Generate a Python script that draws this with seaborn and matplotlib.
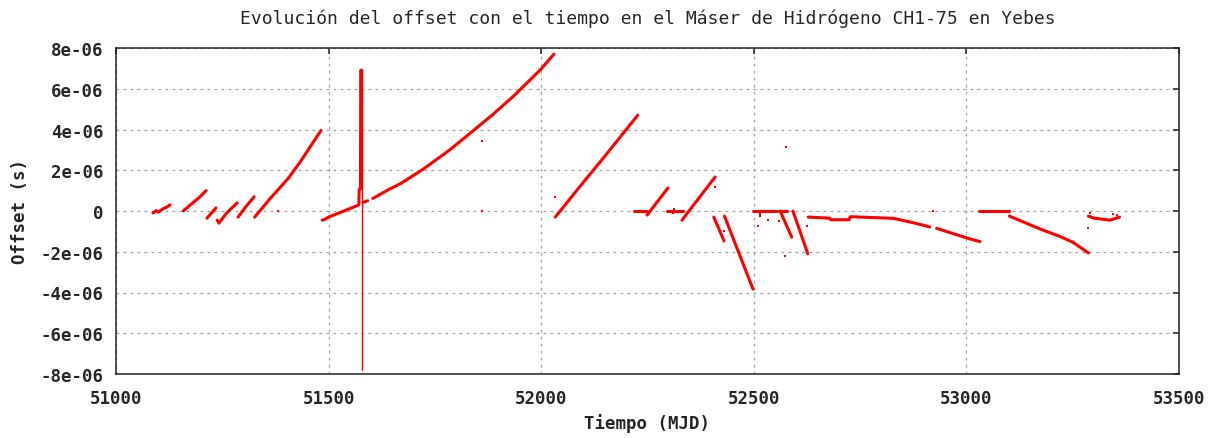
import numpy as np
import pandas as pd
import matplotlib
matplotlib.use("Agg")
import matplotlib.pyplot as plt
from matplotlib.ticker import FuncFormatter, FixedLocator
import seaborn as sns

# Continuous stretches of the maser offset record: segment id, MJD, offset (microseconds)
tramo = [
    1, 1, 1, 1, 1, 1,
    2, 2, 2, 2,
    3, 3,
    4, 4, 4, 4,
    5, 5, 5,
    6, 6, 6, 6, 6,
    7, 7, 7, 7, 7, 7, 7, 7, 7, 7,
    8, 8,
    9, 9, 9, 9, 9, 9, 9, 9, 9, 9, 9,
    10, 10, 10, 10,
    11, 11,
    12, 12,
    13, 13,
    14, 14,
    15, 15,
    16, 16,
    17, 17,
    18, 18,
    19, 19,
    20, 20,
    21, 21, 21, 21, 21, 21, 21, 21, 21,
    22, 22, 22, 22, 22,
    23, 23,
    24, 24, 24, 24, 24,
    25, 25, 25, 25, 25,
]
mjd = [
    51087, 51095, 51100, 51110, 51120, 51127,
    51158, 51175, 51195, 51212,
    51214, 51235,
    51238, 51242, 51260, 51285,
    51287, 51305, 51325,
    51326, 51360, 51405, 51433, 51482,
    51485, 51490, 51500, 51530, 51560, 51571, 51572, 51575, 51575.5, 51578,
    51581, 51592,
    51604, 51609, 51640, 51668, 51723, 51785, 51840, 51887, 51934, 51999, 52030,
    52033, 52091, 52150, 52227,
    52218, 52249,
    52249, 52298,
    52296, 52333,
    52331, 52409,
    52406, 52430,
    52431, 52498,
    52498, 52555,
    52560, 52577,
    52562, 52589,
    52592, 52627,
    52628, 52660, 52679, 52681, 52724, 52727, 52828, 52870, 52914,
    52930, 52960, 52990, 53010, 53032,
    53030, 53100,
    53101, 53173, 53220, 53251, 53287,
    53287, 53300, 53320, 53338, 53360,
]
offset_us = [
    -0.10, 0.02, -0.05, 0.10, 0.20, 0.30,
    0.00, 0.30, 0.65, 1.00,
    -0.35, 0.15,
    -0.45, -0.60, -0.10, 0.40,
    -0.30, 0.20, 0.70,
    -0.30, 0.55, 1.60, 2.40, 3.95,
    -0.45, -0.42, -0.30, -0.05, 0.20, 0.30, 1.08, 1.08, 6.90, 6.90,
    0.43, 0.50,
    0.62, 0.67, 1.04, 1.33, 2.06, 3.00, 3.94, 4.75, 5.62, 6.95, 7.70,
    -0.30, 1.20, 2.70, 4.70,
    0.00, 0.00,
    -0.20, 1.13,
    0.00, 0.00,
    -0.45, 1.67,
    -0.30, -1.47,
    -0.25, -3.83,
    0.00, 0.00,
    0.00, 0.00,
    0.00, -1.28,
    0.00, -2.10,
    -0.30, -0.33, -0.36, -0.43, -0.43, -0.28, -0.36, -0.55, -0.78,
    -0.85, -1.05, -1.25, -1.38, -1.50,
    0.00, 0.00,
    -0.25, -0.88, -1.25, -1.54, -2.06,
    -0.25, -0.35, -0.40, -0.45, -0.30,
]

# Thin excursion of the 51578 event
pico_mjd = [51578, 51578]
pico_us = [6.90, -7.80]

# Isolated readings
sueltos_mjd = [51861, 51861, 52033, 52311, 52313, 52409, 52430, 52515, 52515,
               52533, 52510, 52576, 52573, 52560, 52624, 52921, 53286, 53345,
               51380, 53290, 53355]
sueltos_us = [3.43, 0.00, 0.70, -0.12, 0.08, 1.20, -0.98, -0.15, -0.25,
              -0.45, -0.75, 3.14, -2.19, -0.47, -0.75, 0.00, -0.84, -0.15,
              0.00, -0.10, -0.20]

# Axis ticks
xticks = [51000, 51500, 52000, 52500, 53000, 53500]
yticks = [-8e-06, -6e-06, -4e-06, -2e-06, 0, 2e-06, 4e-06, 6e-06, 8e-06]

df = pd.DataFrame({"tramo": tramo, "mjd": mjd, "offset": np.array(offset_us) * 1e-6})
df_pico = pd.DataFrame({"mjd": pico_mjd, "offset": np.array(pico_us) * 1e-6})
df_sueltos = pd.DataFrame({"mjd": sueltos_mjd, "offset": np.array(sueltos_us) * 1e-6})

sns.set_style("white")
plt.rcParams["font.family"] = ["DejaVu Sans Mono", "DejaVu Sans"]

fig = plt.figure(figsize=(12.18, 4.39), dpi=100)
ax = fig.add_axes([116 / 1218, 1 - 375 / 439, (1179 - 116) / 1218, (375 - 49) / 439])

red = "#ff0000"
sns.lineplot(data=df, x="mjd", y="offset", units="tramo", estimator=None, sort=False,
             color=red, lw=2.2, ax=ax, zorder=3)
sns.lineplot(data=df_pico, x="mjd", y="offset", estimator=None, sort=False,
             color=red, lw=1.0, ax=ax, zorder=3)
sns.scatterplot(data=df_sueltos, x="mjd", y="offset", color=red, marker="s",
                s=3, linewidth=0, ax=ax, zorder=3)

ax.set_xlim(51000, 53500)
ax.set_ylim(-8e-06, 8e-06)
ax.xaxis.set_major_locator(FixedLocator(xticks))
ax.yaxis.set_major_locator(FixedLocator(yticks))
ax.yaxis.set_major_formatter(FuncFormatter(lambda v, p: "%g" % v))
ax.xaxis.set_major_formatter(FuncFormatter(lambda v, p: "%d" % v))

ax.grid(True, color="#a0a0a0", linestyle=(0, (2.2, 3.4)), linewidth=0.9, zorder=1)
for s in ax.spines.values():
    s.set_visible(True)
    s.set_color("#222222")
    s.set_linewidth(1.1)

ax.tick_params(axis="both", direction="in", length=4.5, width=1.1, color="#222222",
               top=True, right=True, labelsize=12.5)
ax.tick_params(axis="x", pad=11)
ax.tick_params(axis="y", pad=9)
for lab in ax.get_xticklabels() + ax.get_yticklabels():
    lab.set_fontweight("bold")

ax.set_xlabel("Tiempo (MJD)", fontsize=12.5, fontweight="bold", labelpad=4)
ax.set_ylabel("Offset (s)", fontsize=12.5, fontweight="bold", labelpad=8)
ax.set_title("Evolución del offset con el tiempo en el Máser de Hidrógeno CH1-75 en Yebes",
             fontsize=13, pad=18)

fig.savefig("out.png", dpi=100, facecolor="white")
